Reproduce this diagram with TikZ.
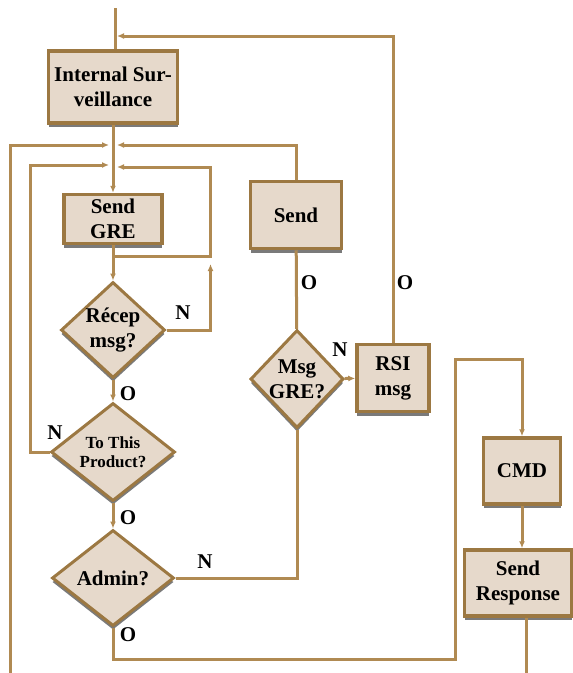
\documentclass[tikz,border=0pt]{standalone}
\usepackage{fontspec}
\setmainfont{Liberation Serif}
\usetikzlibrary{arrows.meta,shapes.geometric,shadows}
\definecolor{boxfill}{HTML}{E6D9CB}
\definecolor{boxedge}{HTML}{9C7842}
\definecolor{flowline}{HTML}{B08A52}
\tikzset{
  stepbox/.style={draw=boxedge, line width=3.5pt, fill=boxfill, align=center, inner sep=1pt,
    font=\bfseries\fontsize{21}{25}\selectfont,
    drop shadow={shadow xshift=0pt, shadow yshift=-4pt, fill=gray!70!black, opacity=0.8}},
  testbox/.style={stepbox, diamond, inner sep=0pt, line width=3pt},
  flow/.style={draw=flowline, line width=3pt},
  tip/.style={flow, -{Latex[length=7pt,width=6pt]}},
  lbl/.style={font=\bfseries\fontsize{21}{25}\selectfont, inner sep=0pt}
}

\begin{document}
\begin{tikzpicture}[x=1pt,y=-1pt]
  \useasboundingbox (0,0) rectangle (573,673);
  \path (113,87) node (surv) [stepbox, minimum width=129, minimum height=72] {Internal Sur-\\veillance};
  \path (113,219) node (sgre) [stepbox, minimum width=98, minimum height=49] {Send\\GRE};
  \path (296,215) node (send) [stepbox, minimum width=91, minimum height=67] {Send};
  \path (393,378) node (rsi) [stepbox, minimum width=72, minimum height=67] {RSI\\msg};
  \path (522,471) node (cmd) [stepbox, minimum width=77, minimum height=66] {CMD};
  \path (518,583) node (resp) [stepbox, minimum width=107, minimum height=66] {Send\\Response};
  \path (113,330) node (recep) [testbox, shape aspect=1.1, minimum width=104, minimum height=96] {Récep\\msg?};
  \path (113,452) node (prod) [testbox, shape aspect=1.3, minimum width=124, minimum height=98,
    font=\bfseries\fontsize{17}{19}\selectfont] {To This\\Product?};
  \path (113,578) node (admin) [testbox, shape aspect=1.25, minimum width=122, minimum height=96] {Admin?};
  \path (297,379) node (msg) [testbox, shape aspect=0.95, minimum width=92, minimum height=98] {Msg\\GRE?};

  \coordinate (top) at (115,8);
  \coordinate (j0) at (117,36);
  \coordinate (m1l) at (109,145);
  \coordinate (m1r) at (117,145);
  \coordinate (m2l) at (109,165);
  \coordinate (m2r) at (117,167);
  \coordinate (lp) at (113,256);
  \coordinate (inL) at (10,673);
  \coordinate (b1) at (455,659);
  \coordinate (b2) at (455,359);
  \coordinate (outR) at (526,673);

  \draw[flow] (top) -- (surv.north -| top);
  \draw[tip] (rsi.north) |- (j0);
  \draw[tip] (surv) -- (sgre);
  \draw[tip] (inL) |- (m1l);
  \draw[tip] (send.north) |- (m1r);
  \draw[tip] (prod.west) -- ++(-19,0) |- (m2l);
  \draw[tip] (lp) -- ++(97,0) |- (m2r);
  \draw[tip] (recep.east) -- ++(44,0) -- ++(0,-66);
  \draw[tip] (sgre) -- (recep);
  \draw[tip] (recep) -- (prod);
  \draw[tip] (prod) -- (admin);
  \draw[flow] (admin.east) -| (msg.south);
  \draw[tip] (admin.south) |- (b1) -- (b2) -| (cmd.north);
  \draw[tip] (cmd.south) -- (cmd.south |- resp.north);
  \draw[flow] (resp.south -| outR) -- (outR);
  \draw[flow] (send) -- (msg);
  \draw[tip] (msg) -- (rsi);

  \node[lbl] (nRecep) at (183,313) {N};
  \node[lbl] (oRecep) at (128,394) {O};
  \node[lbl] (nProd) at (55,433) {N};
  \node[lbl] (oProd) at (128,518) {O};
  \node[lbl] (nAdmin) at (205,562) {N};
  \node[lbl] (oAdmin) at (128,635) {O};
  \node[lbl] (oSend) at (309,283) {O};
  \node[lbl] (nMsg) at (340,350) {N};
  \node[lbl] (oRsi) at (405,283) {O};
\end{tikzpicture}
\end{document}
